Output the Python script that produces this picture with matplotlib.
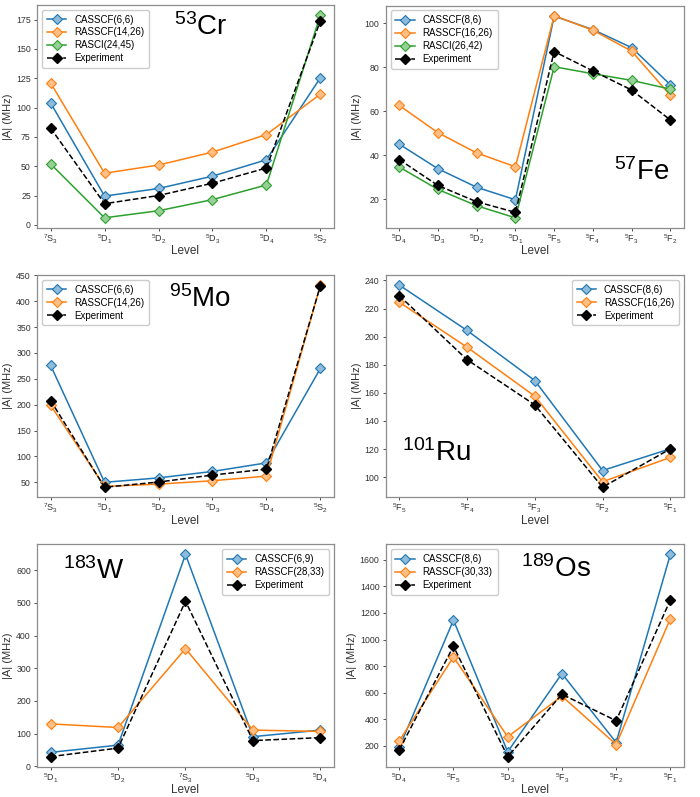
import matplotlib

matplotlib.use("Agg")
import matplotlib.pyplot as plt
from matplotlib.colors import to_rgb

plt.rcParams["font.family"] = ["Liberation Sans", "DejaVu Sans"]
plt.rcParams["mathtext.fontset"] = "custom"
plt.rcParams["mathtext.rm"] = "Liberation Sans"
plt.rcParams["mathtext.it"] = "Liberation Sans:italic"

# --- data ---
cr_levels = ["7S3", "5D1", "5D2", "5D3", "5D4", "5S2"]
cr_casscf = [104, 24.5, 31, 41.5, 55.5, 125.5]
cr_rasscf = [121, 44, 51, 62, 77, 111.5]
cr_rasci = [52, 6, 12, 21.5, 34, 179]
cr_exp = [82.5, 18, 25, 35.5, 48.5, 174]

fe_levels = ["5D4", "5D3", "5D2", "5D1", "5F5", "5F4", "5F3", "5F2"]
fe_casscf = [45, 33.8, 25.4, 19.7, 103.2, 97.1, 88.9, 72]
fe_rasscf = [62.6, 50.2, 41, 34.7, 103.4, 96.8, 87.3, 67.2]
fe_rasci = [34.6, 24.4, 17, 11.5, 80.2, 77, 74, 70]
fe_exp = [38, 26.2, 18.8, 14, 87.1, 78.3, 69.6, 56]

mo_levels = ["7S3", "5D1", "5D2", "5D3", "5D4", "5S2"]
mo_casscf = [276, 50, 58.5, 71, 87.5, 270]
mo_rasscf = [199, 42, 46.5, 53, 62, 431]
mo_exp = [208, 40.5, 50.5, 64, 75.5, 430]

ru_levels = ["5F5", "5F4", "5F3", "5F2", "5F1"]
ru_casscf = [236.7, 204.4, 168.7, 104.7, 120.2]
ru_rasscf = [224.5, 192.5, 157.6, 96.7, 114]
ru_exp = [229.2, 183.6, 151.4, 92.8, 120.1]

w_levels = ["5D1", "5D2", "7S3", "5D3", "5D4"]
w_casscf = [43, 65, 648, 91, 111]
w_rasscf = [130, 119, 360, 111, 107]
w_exp = [30, 56, 505, 79, 88]

os_levels = ["5D4", "5F5", "5D3", "5F3", "5F2", "5F1"]
os_casscf = [188, 1146, 155, 744, 225, 1640]
os_rasscf = [238, 868, 268, 574, 210, 1156]
os_exp = [170, 949, 119, 588, 389, 1297]


def lvl(s):
    return r"$^{%s}\mathrm{%s}_{%s}$" % (s[0], s[1], s[2])


def light(c):
    r, g, b = to_rgb(c)
    return (0.5 + r / 2, 0.5 + g / 2, 0.5 + b / 2)


panels = [
    # levels, series, experiment, isotope text, text pos, legend loc, axes rect
    (cr_levels, [("CASSCF(6,6)", cr_casscf, "tab:blue"), ("RASSCF(14,26)", cr_rasscf, "tab:orange"),
                 ("RASCI(24,45)", cr_rasci, "tab:green")], cr_exp,
     r"$^{53}$Cr", (0.55, 0.90), "upper left", [0.053, 0.714, 0.424, 0.280]),
    (fe_levels, [("CASSCF(8,6)", fe_casscf, "tab:blue"), ("RASSCF(16,26)", fe_rasscf, "tab:orange"),
                 ("RASCI(26,42)", fe_rasci, "tab:green")], fe_exp,
     r"$^{57}$Fe", (0.86, 0.25), "upper left", [0.551, 0.714, 0.426, 0.279]),
    (mo_levels, [("CASSCF(6,6)", mo_casscf, "tab:blue"), ("RASSCF(14,26)", mo_rasscf, "tab:orange")], mo_exp,
     r"$^{95}$Mo", (0.55, 0.89), "upper left", [0.053, 0.376, 0.424, 0.279]),
    (ru_levels, [("CASSCF(8,6)", ru_casscf, "tab:blue"), ("RASSCF(16,26)", ru_rasscf, "tab:orange")], ru_exp,
     r"$^{101}$Ru", (0.17, 0.20), "upper right", [0.551, 0.376, 0.426, 0.279]),
    (w_levels, [("CASSCF(6,9)", w_casscf, "tab:blue"), ("RASSCF(28,33)", w_rasscf, "tab:orange")], w_exp,
     r"$^{183}$W", (0.19, 0.88), "upper right", [0.053, 0.038, 0.424, 0.279]),
    (os_levels, [("CASSCF(8,6)", os_casscf, "tab:blue"), ("RASSCF(30,33)", os_rasscf, "tab:orange")], os_exp,
     r"$^{189}$Os", (0.57, 0.89), "upper left", [0.551, 0.038, 0.426, 0.279]),
]

fig = plt.figure(figsize=(7.0, 7.97), dpi=100)

for levels, series, exp, iso, tpos, loc, rect in panels:
    ax = fig.add_axes(rect)
    x = list(range(len(levels)))
    for label, vals, col in series:
        ax.plot(x, vals, "-", color=col, lw=1.1, marker="D", ms=5.5,
                mfc=light(col), mec=col, mew=0.8, label=label)
    ax.plot(x, exp, "--", color="black", lw=1.1, marker="D", ms=5.5,
            mfc="black", mec="black", label="Experiment")
    ax.set_xticks(x)
    ax.set_xticklabels([lvl(s) for s in levels], fontsize=6.5)
    ax.tick_params(axis="y", labelsize=6.3, colors="#333333", length=2.5, width=0.6, pad=2)
    ax.tick_params(axis="x", colors="#333333", length=2.5, width=0.6, pad=1.0)
    for sp in ax.spines.values():
        sp.set_color("#8c8c8c")
        sp.set_linewidth(0.9)
    ax.set_xlabel("Level", fontsize=8.5, color="#333333")
    ax.xaxis.set_label_coords(0.5, -0.078)
    ax.set_ylabel("|A| (MHz)", fontsize=8, labelpad=2, color="#333333")
    ax.text(tpos[0], tpos[1], iso, transform=ax.transAxes, fontsize=20,
            ha="center", va="center")
    leg = ax.legend(loc=loc, fontsize=7, handlelength=2.0, borderpad=0.5,
                    labelspacing=0.3, framealpha=1)
    leg.get_frame().set_edgecolor("#cccccc")

fig.savefig("out.png", dpi=100)
